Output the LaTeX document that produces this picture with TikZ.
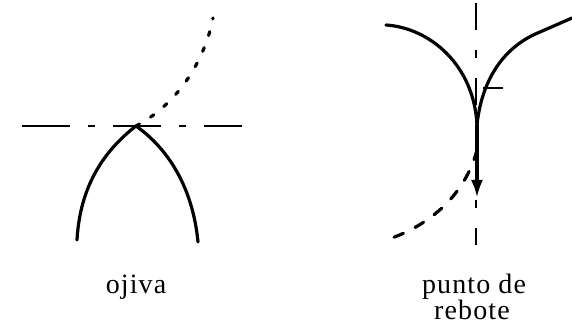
\documentclass[tikz,border=0pt]{standalone}
\usepackage{fontspec}
\setmainfont{Liberation Serif}[LetterSpace=4]
\usepackage{tikz}
\usetikzlibrary{
  arrows.meta,
  calc,
  positioning
}
\tikzset{>={Latex[length=9pt,width=6pt]}}
\tikzset{font=\fontsize{14}{13.5}\selectfont}
\tikzset{
  hline/.style={line width=1.4pt, dash pattern=on 24pt off 9pt on 3.5pt off 9pt},
  vline/.style={line width=1.4pt, dash pattern=on 13.5pt off 10pt on 4pt off 10pt},
  curve/.style={line width=1.6pt, line cap=round},
  dotcurve/.style={line width=1.6pt, line cap=round, dash pattern=on 2pt off 6.5pt},
  dashcurve/.style={line width=1.6pt, line cap=round, dash pattern=on 5pt off 6.5pt},
  caption/.style={anchor=base, inner sep=0pt}
}

\begin{document}
\begin{tikzpicture}[x=0.5pt, y=-0.5pt]
  \useasboundingbox (0,0) rectangle (572,325);
  % ojiva
  \coordinate (apex) at (136,126);
  \draw[hline] (22,126) -- (242,126);
  \draw[curve] (77,240) .. controls (80,185) and (105,150) .. (apex);
  \draw[curve] (apex) .. controls (170,150) and (193,190) .. (198,242);
  \draw[dotcurve] (apex) .. controls (178,104) and (205,60) .. (213,18);
  \node[caption] (ojiva) at (136,293) {ojiva};
  % punto de rebote
  \coordinate (cusp) at (477,125);
  \draw[vline] (476,3) -- (476,245);
  \draw[curve] (386,25) .. controls (430,28) and (474,65) .. (cusp);
  \draw[curve] (572,18) -- (540,32) .. controls (500,48) and (481,85) .. (cusp);
  \draw[line width=0.6pt] (483,88) -- (503,88);
  \coordinate (tip) at (477,198);
  \draw[->, line width=2pt] (cusp) -- (tip);
  \draw[dashcurve] (477,150) .. controls (465,195) and (430,225) .. (389,239);
  \node[caption] (punto) at (474,293) {punto de};
  \node[caption] (rebote) at (472,320) {rebote};
\end{tikzpicture}
\end{document}
